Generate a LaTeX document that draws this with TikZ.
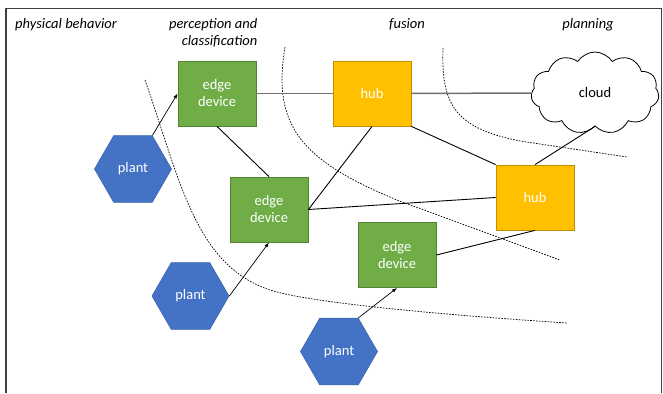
\documentclass[tikz,border=0pt]{standalone}
\usepackage{fontspec}
\setmainfont{Carlito}
\usetikzlibrary{shapes.geometric,shapes.symbols,arrows.meta}
\definecolor{edgegreen}{HTML}{70AD47}
\definecolor{edgeborder}{HTML}{548235}
\definecolor{hubyellow}{HTML}{FFC000}
\definecolor{hubborder}{HTML}{C09000}
\definecolor{plantblue}{HTML}{4472C4}
\definecolor{plantborder}{HTML}{3A64AE}
\definecolor{linkgray}{HTML}{6F6F6F}
\tikzset{
  fnt/.style={font=\fontsize{14.5}{17}\selectfont},
  edgebox/.style={fnt, rectangle, draw=edgeborder, line width=0.8pt, fill=edgegreen, text=white,
    minimum width=78pt, minimum height=65pt, inner sep=0pt, align=center},
  hubbox/.style={fnt, rectangle, draw=hubborder, line width=0.8pt, fill=hubyellow, text=white,
    minimum width=78pt, minimum height=65pt, inner sep=0pt, align=center},
  plantbox/.style={fnt, regular polygon, regular polygon sides=6, draw=plantborder, line width=0.6pt,
    fill=plantblue, text=white, minimum size=77pt, inner sep=0pt},
  cloudbox/.style={fnt, cloud, cloud puffs=11, cloud puff arc=115, aspect=1.55, draw=black,
    line width=0.8pt, fill=white, minimum width=128pt, minimum height=82pt, inner sep=0pt},
  heading/.style={fnt, font=\fontsize{14.5}{17.3}\selectfont\itshape, inner sep=0pt},
  link/.style={line width=0.9pt, black},
  graylink/.style={line width=1.5pt, linkgray},
  feed/.style={line width=0.7pt, black, -{Latex[length=5pt,width=3.6pt]}},
  zone/.style={line width=0.7pt, black, dash pattern=on 1.6pt off 1.3pt},
  frameline/.style={line width=1.2pt, black!75}
}
\begin{document}
\begin{tikzpicture}[x=1pt, y=-1pt]
\useasboundingbox (0,0) rectangle (663,393);
% frame
\draw[frameline] (6,393) -- (6,8.5) -- (661.5,8.5) -- (661.5,393);
% zone boundaries
\draw[zone] (145,80) .. controls (180,180) and (195,265) .. (270,290)
            .. controls (300,300) and (400,312) .. (567,323);
\draw[zone] (285,47) .. controls (272,125) and (300,160) .. (397,200)
            -- (560,260);
\draw[zone] (443,48) .. controls (441,105) and (455,128) .. (520,141)
            .. controls (560,147) .. (627,157);
% headings
\node[heading, anchor=base west] (hphys) at (15,28.5) {physical behavior};
\node[heading, anchor=base east, align=right] (hperc) at (257.5,45.8) {perception and\\classification};
\node[heading, anchor=base] (hfus) at (407,28.5) {fusion};
\node[heading, anchor=base] (hplan) at (588,28.5) {planning};
% nodes
\node[edgebox] (e1) at (217,93.5) {edge\\device};
\node[hubbox] (h1) at (372,93.5) {hub};
\node[cloudbox] (cl) at (595,93) {cloud};
\node[edgebox] (e2) at (269,209.5) {edge\\device};
\node[hubbox] (h2) at (535,197.5) {hub};
\node[edgebox] (e3) at (397,255) {edge\\device};
\node[plantbox] (p1) at (133,169) {plant};
\node[plantbox] (p2) at (190.5,296) {plant};
\node[plantbox] (p3) at (339,351.5) {plant};
% links
\draw[graylink] (e1.east) -- (h1.west);
\draw[graylink] (h1.east) -- (cl.west);
\draw[link] (e1.south) -- (e2.north);
\draw[link] (h1.south) -- (e2.east);
\draw[link] (e2.east) -- (h2.west);
\draw[link] (h1.south east) -- (h2.north west);
\draw[link] (cl.south) -- (h2.north);
\draw[link] (e3.east) -- (h2.south);
% feeds
\draw[feed] (p1.60) -- (e1.west);
\draw[feed] (p2.east) -- (e2.south);
\draw[feed] (p3.60) -- (e3.south);
\end{tikzpicture}
\end{document}
